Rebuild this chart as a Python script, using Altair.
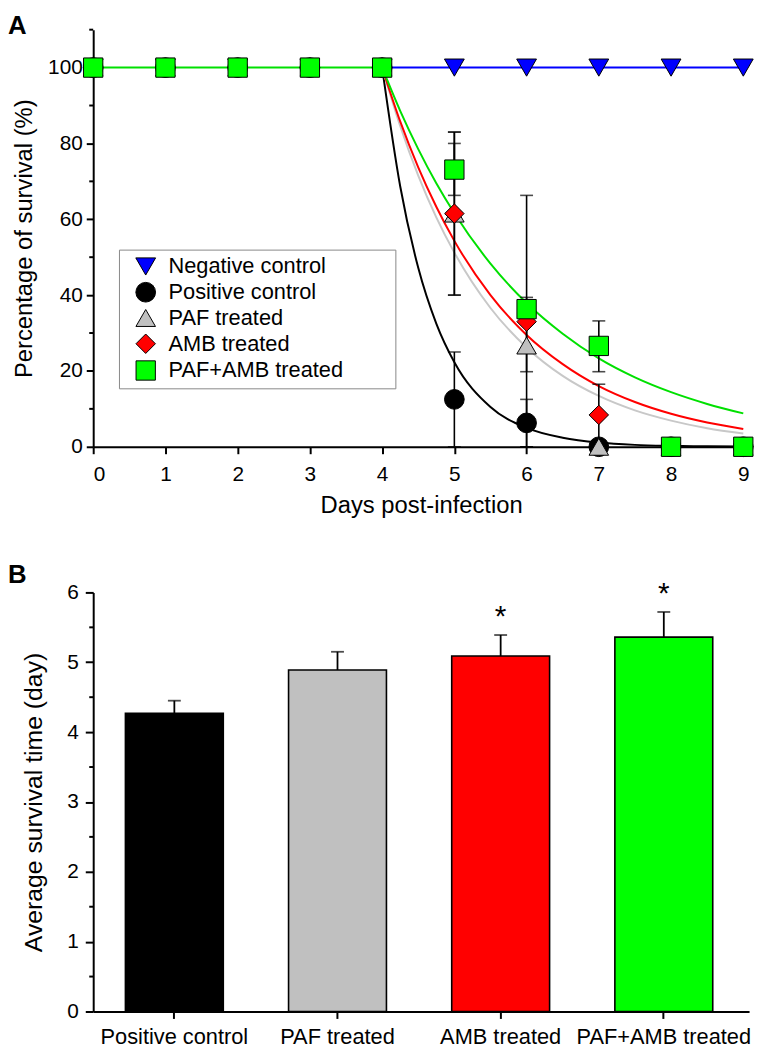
import altair as alt
import pandas as pd

FONT = "Liberation Sans"
NBSP = "\u00a0"
BLANK = "\u2800"  # non-whitespace blank glyph, keeps the padding from being trimmed

# ---------------- Panel A data ----------------
groups = ["Negative control", "Positive control", "PAF treated", "AMB treated", "PAF+AMB treated"]
point_fills = ["#0000ff", "#000000", "#c0c0c0", "#ff0000", "#00ff00"]
line_colors = ["#0000ff", "#000000", "#c8c8c8", "#ff0000", "#00e000"]
shapes = ["triangle-down", "circle", "triangle-up", "diamond", "square"]
symbol_sizes = [400, 380, 360, 520, 330]

days = [0, 1, 2, 3, 4, 5, 6, 7, 8, 9]
surv_neg = [100, 100, 100, 100, 100, 100, 100, 100, 100, 100]
surv_pos = [100, 100, 100, 100, 100, 12.5, 6.3, 0, 0, 0]
surv_paf = [100, 100, 100, 100, 100, 61.5, 26.7, 0, 0, 0]
surv_amb = [100, 100, 100, 100, 100, 61.5, 33.0, 8.4, 0, 0]
surv_combo = [100, 100, 100, 100, 100, 73.1, 36.3, 26.6, 0, 0]

# error bars (group, day, low, high)
err_group = ["Positive control", "Positive control",
             "PAF treated", "PAF treated",
             "AMB treated", "AMB treated", "AMB treated",
             "PAF+AMB treated", "PAF+AMB treated", "PAF+AMB treated"]
err_day = [5, 6, 5, 6, 5, 6, 7, 5, 6, 7]
err_low = [0, 0, 40.0, 0, 40.0, 19.8, 0, 66.3, 33.2, 19.8]
err_high = [25.0, 12.5, 83.0, 66.3, 83.0, 33.0, 16.5, 80.0, 39.4, 33.2]

# fitted curves (flat 0-4 part only drawn for the top-most series)
pre_days = [0, 4]
pre_vals = [100, 100]
curve_days = [4, 4.25, 4.5, 4.75, 5, 5.5, 6, 6.5, 7, 7.5, 8, 8.5, 9]
curve_neg = [100, 100, 100, 100, 100, 100, 100, 100, 100, 100, 100, 100, 100]
curve_pos = [100, 68.7, 47.2, 32.5, 22.3, 10.5, 5.0, 2.4, 1.1, 0.5, 0.25, 0.12, 0.06]
curve_paf = [100, 84.6, 71.5, 60.5, 51.2, 36.6, 26.2, 18.7, 13.4, 9.6, 6.9, 4.9, 3.5]
curve_amb = [100, 85.8, 73.7, 63.3, 54.3, 40.0, 29.5, 21.8, 16.0, 11.8, 8.7, 6.4, 4.7]
curve_combo = [100, 88.6, 78.5, 69.5, 61.6, 48.3, 37.9, 29.8, 23.3, 18.3, 14.4, 11.3, 8.8]

y_ticks_A = [0, 20, 40, 60, 80, 100]
y_minor_A = [10, 30, 50, 70, 90, 110]
x_ticks_A = [0, 1, 2, 3, 4, 5, 6, 7, 8, 9]

# ---------------- Panel B data ----------------
categories = ["Positive control", "PAF treated", "AMB treated", "PAF+AMB treated"]
bar_fills = ["#000000", "#c0c0c0", "#ff0000", "#00ff00"]
mean_time = [4.27, 4.89, 5.09, 5.36]
mean_err_top = [4.45, 5.15, 5.39, 5.72]
star_cats = ["AMB treated", "PAF+AMB treated"]
star_y = [5.39, 5.72]
y_ticks_B = [0, 1, 2, 3, 4, 5, 6]
y_minor_B = [0.5, 1.5, 2.5, 3.5, 4.5, 5.5]

# ---------------- build tables ----------------
surv_all = [surv_neg, surv_pos, surv_paf, surv_amb, surv_combo]
pts_rows = []
for g, vals in zip(groups, surv_all):
    for d, v in zip(days, vals):
        pts_rows.append({"group": g, "day": d, "value": v})
pts = pd.DataFrame(pts_rows)

curve_all = [curve_neg, curve_pos, curve_paf, curve_amb, curve_combo]
err_df = pd.DataFrame({"group": err_group, "day": err_day, "value": err_low, "high": err_high})

xA = alt.Scale(domain=[0, 9.08], nice=False, zero=False)
yA = alt.Scale(domain=[0, 110], nice=False)

x_axis_A = alt.Axis(values=x_ticks_A, title="Days post-infection", titleFontSize=24,
                    titleFontWeight="normal", labelFontSize=21, tickSize=7, labelPadding=10,
                    titlePadding=9, grid=False, format="d")
y_axis_A = alt.Axis(values=y_ticks_A, title="Percentage of survival (%)", titleFontSize=24,
                    titleFontWeight="normal", labelFontSize=21, tickSize=7, labelPadding=4,
                    titlePadding=11, grid=False)

WA, HA = 662, 421

line_layers = []
n = len(groups)
for i, (g, c, vals) in enumerate(zip(groups, line_colors, curve_all)):
    rows = []
    if i == n - 1:
        rows += [{"seg": "pre", "day": d, "value": v} for d, v in zip(pre_days, pre_vals)]
    rows += [{"seg": "post", "day": d, "value": v} for d, v in zip(curve_days, vals)]
    if i == 0:
        xenc = alt.X("day:Q", scale=xA, axis=x_axis_A)
        yenc = alt.Y("value:Q", scale=yA, axis=y_axis_A)
    else:
        xenc = alt.X("day:Q", scale=xA)
        yenc = alt.Y("value:Q", scale=yA)
    line_layers.append(
        alt.Chart(pd.DataFrame(rows)).mark_line(color=c, strokeWidth=2, interpolate="monotone").encode(
            x=xenc, y=yenc, detail="seg:N")
    )

err_base = alt.Chart(err_df)
err_rules = err_base.mark_rule(color="black", strokeWidth=1.6).encode(
    x=alt.X("day:Q", scale=xA), y=alt.Y("value:Q", scale=yA), y2="high:Q")
err_caps_hi = err_base.mark_tick(color="black", orient="horizontal", size=13, thickness=1.6).encode(
    x=alt.X("day:Q", scale=xA), y=alt.Y("high:Q", scale=yA, title="Percentage of survival (%)"))
err_caps_lo = err_base.mark_tick(color="black", orient="horizontal", size=13, thickness=1.6).encode(
    x=alt.X("day:Q", scale=xA), y=alt.Y("value:Q", scale=yA))

legend = alt.Legend(title=None, orient="none", legendX=26, legendY=222,
                    labelFontSize=22, labelFont=FONT, labelLimit=600, symbolSize=340,
                    symbolStrokeColor="black", symbolStrokeWidth=1,
                    strokeColor="#888888", fillColor="white", padding=6,
                    rowPadding=3, labelOffset=12, symbolOffset=10,
                    labelExpr="datum.label + '" + NBSP * 5 + BLANK + "'")

points = alt.Chart(pts).mark_point(filled=True, stroke="black", strokeWidth=1, opacity=1).encode(
    x=alt.X("day:Q", scale=xA),
    y=alt.Y("value:Q", scale=yA),
    color=alt.Color("group:N", scale=alt.Scale(domain=groups, range=point_fills), legend=legend),
    shape=alt.Shape("group:N", scale=alt.Scale(domain=groups, range=shapes), legend=legend),
    size=alt.Size("group:N", scale=alt.Scale(domain=groups, range=symbol_sizes), legend=None),
)

minorA = alt.Chart(pd.DataFrame({"value": y_minor_A})).mark_rule(color="black", strokeWidth=2).encode(
    y=alt.Y("value:Q", scale=yA), x=alt.value(-4), x2=alt.value(0))

labelA = alt.Chart(pd.DataFrame({"t": ["A"]})).mark_text(
    fontSize=26, fontWeight="bold", font=FONT, align="left", baseline="top").encode(
    text="t:N", x=alt.value(-86), y=alt.value(-17))

panelA = alt.layer(*line_layers, err_rules, err_caps_hi, err_caps_lo, points, minorA, labelA).properties(
    width=WA, height=HA)

# ---------------- Panel B ----------------
bars_df = pd.DataFrame({"cat": categories, "mean": mean_time, "top": mean_err_top})
stars_df = pd.DataFrame({"cat": star_cats, "mean": star_y})

xB = alt.Scale(domain=categories, paddingInner=0.4, paddingOuter=0.21, align=0.47)
yB = alt.Scale(domain=[0, 6], nice=False)

x_axis_B = alt.Axis(title=None, labelFontSize=22, labelAngle=0, tickSize=7, labelPadding=8, grid=False)
y_axis_B = alt.Axis(values=y_ticks_B, title="Average survival time (day)", titleFontSize=25,
                    titleFontWeight="normal", labelFontSize=21, tickSize=8, labelPadding=7,
                    titlePadding=20, grid=False, format="d")

bars = alt.Chart(bars_df).mark_bar(stroke="black", strokeWidth=1.6).encode(
    x=alt.X("cat:N", scale=xB, sort=categories, axis=x_axis_B),
    y=alt.Y("mean:Q", scale=yB, axis=y_axis_B),
    fill=alt.Fill("cat:N", scale=alt.Scale(domain=categories, range=bar_fills), legend=None),
)
bar_err = alt.Chart(bars_df).mark_rule(color="black", strokeWidth=1.8).encode(
    x=alt.X("cat:N", scale=xB, sort=categories), y=alt.Y("mean:Q", scale=yB), y2="top:Q")
bar_cap = alt.Chart(bars_df).mark_tick(color="black", size=13, thickness=1.8).encode(
    x=alt.X("cat:N", scale=xB, sort=categories), y=alt.Y("top:Q", scale=yB, title="Average survival time (day)"))
stars = alt.Chart(stars_df).mark_text(text="*", fontSize=30, font=FONT, baseline="alphabetic",
                                      align="center", dy=-9).encode(
    x=alt.X("cat:N", scale=xB, sort=categories), y=alt.Y("mean:Q", scale=yB))
minorB = alt.Chart(pd.DataFrame({"mean": y_minor_B})).mark_rule(color="black", strokeWidth=2).encode(
    y=alt.Y("mean:Q", scale=yB), x=alt.value(-4), x2=alt.value(0))
labelB = alt.Chart(pd.DataFrame({"t": ["B"]})).mark_text(
    fontSize=26, fontWeight="bold", font=FONT, align="left", baseline="top").encode(
    text="t:N", x=alt.value(-86), y=alt.value(-31))

panelB = alt.layer(bars, bar_err, bar_cap, stars, minorB, labelB).properties(width=662, height=423)

chart = alt.vconcat(panelA, panelB, spacing=45).properties(
    padding={"left": 0, "top": 0, "right": 0, "bottom": 0}
).configure(font=FONT).configure_view(stroke=None).configure_axis(
    domainColor="black", tickColor="black", labelColor="black", titleColor="black",
    domainWidth=2, tickWidth=2, labelFont=FONT, titleFont=FONT,
).configure_legend(labelColor="black")

chart.save("out.html", embed_options={"renderer": "svg", "actions": False})
